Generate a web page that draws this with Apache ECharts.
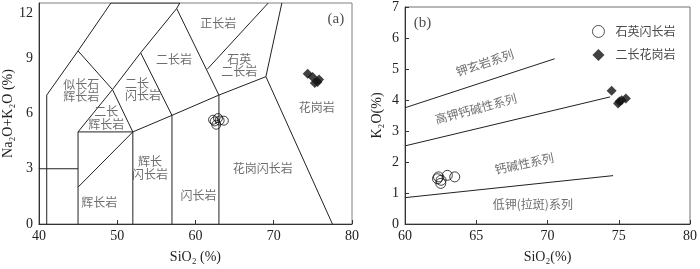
<!DOCTYPE html>
<html><head><meta charset="utf-8">
<script src="https://cdn.jsdelivr.net/npm/echarts@6/dist/echarts.min.js"></script>
<style>html,body{margin:0;padding:0;background:#fff}#c{width:700px;height:269px}</style>
</head><body><div id="c"></div>
<script>
// ---------------- Panel (a): TAS diagram ----------------
const tasXRange = [40, 80];
const tasYRange = [0, 12];
const tasBoundaries = [
  [[41,0],[41,7],[45,9.4],[48.4,11.5],[49.2,12]],
  [[40,3],[45,3]],
  [[45,0],[45,5],[52,5]],
  [[45,2],[52,5]],
  [[52,0],[52,5],[57,5.9],[63,7],[69,8],[77.5,0]],
  [[57,0],[57,5.9]],
  [[63,0],[63,7]],
  [[45,5],[49.4,7.3],[53,9.3],[57.6,11.7],[58,12]],
  [[45,9.4],[49.4,7.3],[52,5]],
  [[53,9.3],[57,5.9]],
  [[57.6,11.7],[63,7]],
  [[61.5,8.4],[69.3,12]],
  [[69,8],[71.04,12]],
  [[49.2,12],[58,12]]
];
const tasFieldNames = ['似长石\n辉长岩','二长\n闪长岩','二长\n辉长岩','二长岩','正长岩','石英\n二长岩','花岗岩','花岗闪长岩','闪长岩','辉长\n闪长岩','辉长岩'];
const tasFieldAnchors = [[45.4,7.25],[51.0,7.3],[48.6,5.75],[57.25,8.95],[62.9,10.9],[65.6,8.6],[75.5,6.35],[68.6,3.0],[60.4,1.55],[54.2,3.05],[47.7,1.15]];
const tasFieldAlign = ['center','left','center','center','center','center','center','center','center','center','center'];
const tasQuartzDiorite = [[62.25,5.66],[62.46,5.57],[62.66,5.39],[62.88,5.75],[63.09,5.62],[63.63,5.61]];
const tasMonzogranite = [[74.34,8.16],[74.96,7.98],[75.59,7.71],[75.79,7.84],[75.25,7.66]];

// ---------------- Panel (b): SiO2 - K2O ----------------
const k2oXRange = [60, 80];
const k2oYRange = [0, 7];
const k2oBoundaries = [
  [[60,3.75],[70.5,5.33]],
  [[60,2.52],[74.4,4.1]],
  [[60,0.85],[74.6,1.56]]
];
const k2oSeriesNames = ['钾玄岩系列','高钾钙碱性系列','钙碱性系列','低钾(拉斑)系列'];
const k2oSeriesAnchors = [[65.6,5.2],[64.97,3.72],[68.36,1.95],[68.97,0.64]];
const k2oSeriesAngles = [18,15,12,0];
const k2oQuartzDiorite = [[62.28,1.46],[62.51,1.31],[62.97,1.57],[63.49,1.52],[62.53,1.41],[62.35,1.52]];
const k2oMonzogranite = [[74.5,4.30],[74.95,3.89],[75.2,3.99],[75.5,4.05],[75.05,3.95]];

const legendNames = ['石英闪长岩','二长花岗岩'];

// ---------------- styles ----------------
const NUM_FONT = "'Liberation Serif','Times New Roman',serif";
const CJK_FONT = "'Noto Sans CJK SC','Noto Sans',sans-serif";
const LINE = '#222';
const AXIS = '#333';

function boundarySeries(lines, idx) {
  return lines.map(pts => ({
    type: 'line', xAxisIndex: idx, yAxisIndex: idx, data: pts,
    symbol: 'none', silent: true, clip: true,
    lineStyle: { color: LINE, width: 1 }, z: 2
  }));
}
function textSeries(names, anchors, idx, angles, aligns) {
  return {
    type: 'scatter', xAxisIndex: idx, yAxisIndex: idx, symbolSize: 1,
    itemStyle: { color: 'rgba(0,0,0,0)' }, silent: true, z: 3,
    data: names.map((n, i) => ({
      value: anchors[i], name: n,
      label: {
        show: true, position: 'inside', formatter: n,
        rotate: angles ? angles[i] : 0,
        align: aligns ? aligns[i] : 'center', verticalAlign: 'middle',
        fontFamily: CJK_FONT, fontSize: 12, lineHeight: 12.5, color: '#4a4a4a'
      }
    }))
  };
}
function axisLabelStyle() {
  return { fontFamily: NUM_FONT, fontSize: 14, color: '#222' };
}

const option = {
  animation: false,
  backgroundColor: '#fff',
  grid: [
    { left: 32, top: 3, width: 320, height: 226, show: true, borderColor: '#808080', borderWidth: 1, backgroundColor: 'transparent' },
    { left: 405, top: 3, width: 292, height: 226, show: true, borderColor: '#707070', borderWidth: 1, backgroundColor: 'transparent' }
  ],
  xAxis: [
    { type: 'value', gridIndex: 0, min: tasXRange[0], max: tasXRange[1], interval: 10,
      name: 'SiO₂ (%)', nameLocation: 'middle', nameGap: 26,
      nameTextStyle: { fontFamily: NUM_FONT, fontSize: 14, color: '#222' },
      axisLine: { lineStyle: { color: AXIS, width: 1 } },
      axisTick: { inside: true, length: 4, lineStyle: { color: AXIS } },
      axisLabel: Object.assign({ margin: 5 }, axisLabelStyle()),
      splitLine: { show: false } },
    { type: 'value', gridIndex: 1, min: k2oXRange[0], max: k2oXRange[1], interval: 5,
      name: 'SiO₂(%)', nameLocation: 'middle', nameGap: 26,
      nameTextStyle: { fontFamily: NUM_FONT, fontSize: 14, color: '#222' },
      axisLine: { lineStyle: { color: AXIS, width: 1 } },
      axisTick: { inside: true, length: 4, lineStyle: { color: AXIS } },
      axisLabel: Object.assign({ margin: 5 }, axisLabelStyle()),
      splitLine: { show: false } }
  ],
  yAxis: [
    { type: 'value', gridIndex: 0, min: tasYRange[0], max: tasYRange[1], interval: 3,
      name: 'Na₂O+K₂O (%)', nameLocation: 'middle', nameGap: 17,
      nameTextStyle: { fontFamily: NUM_FONT, fontSize: 14, color: '#222' },
      axisLine: { lineStyle: { color: AXIS, width: 1 } },
      axisTick: { show: false },
      axisLabel: Object.assign({ margin: 6,
        formatter: v => v === 12 ? '{t|12}' : String(v),
        rich: { t: { fontFamily: NUM_FONT, fontSize: 14, color: '#222', padding: [20, 0, 0, 0] } } }, axisLabelStyle()),
      splitLine: { show: false } },
    { type: 'value', gridIndex: 1, min: k2oYRange[0], max: k2oYRange[1], interval: 1,
      name: 'K₂O(%)', nameLocation: 'middle', nameGap: 21,
      nameTextStyle: { fontFamily: NUM_FONT, fontSize: 14, color: '#222' },
      axisLine: { lineStyle: { color: AXIS, width: 1 } },
      axisTick: { inside: true, length: 4, lineStyle: { color: AXIS } },
      axisLabel: Object.assign({ margin: 6 }, axisLabelStyle()),
      splitLine: { show: false } }
  ],
  legend: {
    orient: 'vertical', left: 587, top: 20, itemWidth: 12, itemHeight: 12, itemGap: 11,
    data: legendNames.map(n => ({ name: n, itemStyle: { borderWidth: 0.9 } })), selectedMode: false,
    textStyle: { fontFamily: CJK_FONT, fontSize: 12, color: '#4a4a4a', padding: [0, 0, 0, 6] }
  },
  series: [].concat(
    boundarySeries(tasBoundaries, 0),
    boundarySeries(k2oBoundaries, 1),
    [
      textSeries(tasFieldNames, tasFieldAnchors, 0, null, tasFieldAlign),
      textSeries(k2oSeriesNames, k2oSeriesAnchors, 1, k2oSeriesAngles, null),
      { type: 'scatter', xAxisIndex: 0, yAxisIndex: 0, data: tasQuartzDiorite, symbol: 'circle', symbolSize: 9,
        itemStyle: { color: 'rgba(255,255,255,0)', borderColor: '#111', borderWidth: 1 }, z: 5 },
      { type: 'scatter', xAxisIndex: 0, yAxisIndex: 0, data: tasMonzogranite, symbol: 'diamond', symbolSize: 10,
        itemStyle: { color: '#111' }, z: 5 },
      { name: legendNames[0], type: 'scatter', xAxisIndex: 1, yAxisIndex: 1, data: k2oQuartzDiorite, symbol: 'circle', symbolSize: 10,
        itemStyle: { color: 'rgba(255,255,255,0)', borderColor: '#111', borderWidth: 1 }, z: 5 },
      { name: legendNames[1], type: 'scatter', xAxisIndex: 1, yAxisIndex: 1, data: k2oMonzogranite, symbol: 'diamond', symbolSize: 10,
        itemStyle: { color: '#111' }, z: 5 },
      { type: 'scatter', xAxisIndex: 0, yAxisIndex: 0, symbolSize: 1, itemStyle: { color: 'rgba(0,0,0,0)' }, silent: true,
        data: [{ value: [77.94, 11.15], label: { show: true, position: 'inside', formatter: '(a)', fontFamily: NUM_FONT, fontSize: 15, color: '#222' } }] },
      { type: 'scatter', xAxisIndex: 1, yAxisIndex: 1, symbolSize: 1, itemStyle: { color: 'rgba(0,0,0,0)' }, silent: true,
        data: [{ value: [61.23, 6.47], label: { show: true, position: 'inside', formatter: '(b)', fontFamily: NUM_FONT, fontSize: 15, color: '#222' } }] }
    ]
  )
};
const chart = echarts.init(document.getElementById('c'), null, { renderer: 'canvas' });
chart.setOption(option);
</script>
</body></html>
